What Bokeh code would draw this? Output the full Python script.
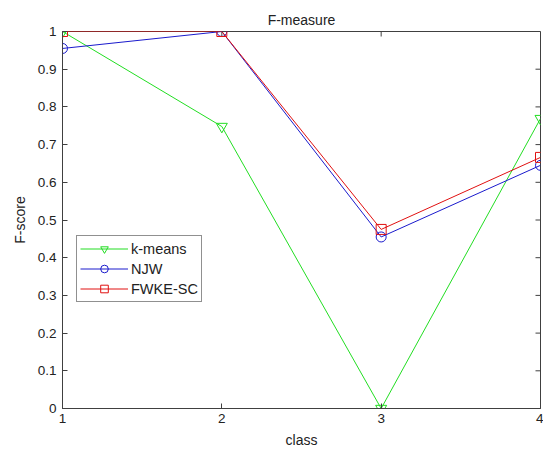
from bokeh.plotting import figure
from bokeh.models import Range1d, FixedTicker, Title, Legend, LegendItem
from bokeh.embed import file_html
from bokeh.resources import INLINE

classes = [1, 2, 3, 4]
kmeans = [1.0, 0.748, 0.0, 0.769]
njw = [0.955, 1.0, 0.455, 0.645]
fwke = [1.0, 1.0, 0.475, 0.666]
x_ticks = [1, 2, 3, 4]
y_ticks = [0, 0.1, 0.2, 0.3, 0.4, 0.5, 0.6, 0.7, 0.8, 0.9, 1.0]
y_tick_labels = ["0", "0.1", "0.2", "0.3", "0.4", "0.5", "0.6", "0.7", "0.8", "0.9", "1"]

FONT = "Liberation Sans"
AX = "#404040"
TXT = "#222222"

p = figure(width=543, height=450, output_backend="svg", toolbar_location=None,
           x_range=Range1d(1, 4), y_range=Range1d(0, 1),
           min_border_left=62, min_border_right=3, min_border_top=31, min_border_bottom=40)
p.title = None
p.add_layout(Title(text="F-measure", align="center", text_font=FONT,
                   text_font_size="14px", text_font_style="normal",
                   text_color=TXT, offset=0, standoff=8), "above")
p.xgrid.visible = False
p.ygrid.visible = False
p.outline_line_color = AX
p.outline_line_width = 1
p.background_fill_color = "white"
p.border_fill_color = "white"

for ax in (p.xaxis[0], p.yaxis[0]):
    ax.axis_line_color = AX
    ax.major_tick_line_color = AX
    ax.major_tick_in = 5
    ax.major_tick_out = 0
    ax.minor_tick_line_color = None
    ax.major_label_text_font = FONT
    ax.major_label_text_font_size = "13.5px"
    ax.major_label_text_color = TXT
    ax.axis_label_text_font = FONT
    ax.axis_label_text_font_size = "14px"
    ax.axis_label_text_font_style = "normal"
    ax.axis_label_text_color = TXT

p.xaxis.ticker = FixedTicker(ticks=x_ticks)
p.yaxis.ticker = FixedTicker(ticks=y_ticks)
p.yaxis.major_label_overrides = {t: l for t, l in zip(y_ticks, y_tick_labels)}
p.xaxis.axis_label = "class"
p.yaxis.axis_label = "F-score"
p.xaxis.major_label_standoff = 5
p.yaxis.major_label_standoff = 6
p.xaxis.axis_label_standoff = 6
p.yaxis.axis_label_standoff = 7

# inward ticks on the top and right edges of the box (MATLAB style)
p.ray(x=x_ticks, y=[1.0] * len(x_ticks), length=5, length_units="screen",
      angle=-90, angle_units="deg", line_color=AX, line_width=1)
p.ray(x=[4] * len(y_ticks), y=y_ticks, length=5, length_units="screen",
      angle=180, angle_units="deg", line_color=AX, line_width=1)

GREEN = "#22dd22"
BLUE = "#1a1acc"
RED = "#e01010"

l1 = p.line(classes, kmeans, line_color=GREEN, line_width=1)
m1 = p.scatter(classes, kmeans, marker="inverted_triangle", size=11,
               fill_color=None, line_color=GREEN, line_width=1)
l2 = p.line(classes, njw, line_color=BLUE, line_width=1)
m2 = p.scatter(classes, njw, marker="circle", size=10,
               fill_color=None, line_color=BLUE, line_width=1)
l3 = p.line(classes, fwke, line_color=RED, line_width=1)
m3 = p.scatter(classes, fwke, marker="square", size=10,
               fill_color=None, line_color=RED, line_width=1)

legend = Legend(items=[LegendItem(label="k-means", renderers=[l1, m1]),
                       LegendItem(label="NJW", renderers=[l2, m2]),
                       LegendItem(label="FWKE-SC", renderers=[l3, m3])],
                location=(14, 106), label_text_font=FONT, label_text_font_size="14.5px",
                label_text_color=TXT, glyph_width=48, glyph_height=19,
                label_height=19, spacing=1, padding=3, margin=0,
                border_line_color=TXT, border_line_width=1,
                label_standoff=3, background_fill_alpha=1)
p.add_layout(legend, "center")

open("out.html", "w").write(file_html(p, INLINE))
